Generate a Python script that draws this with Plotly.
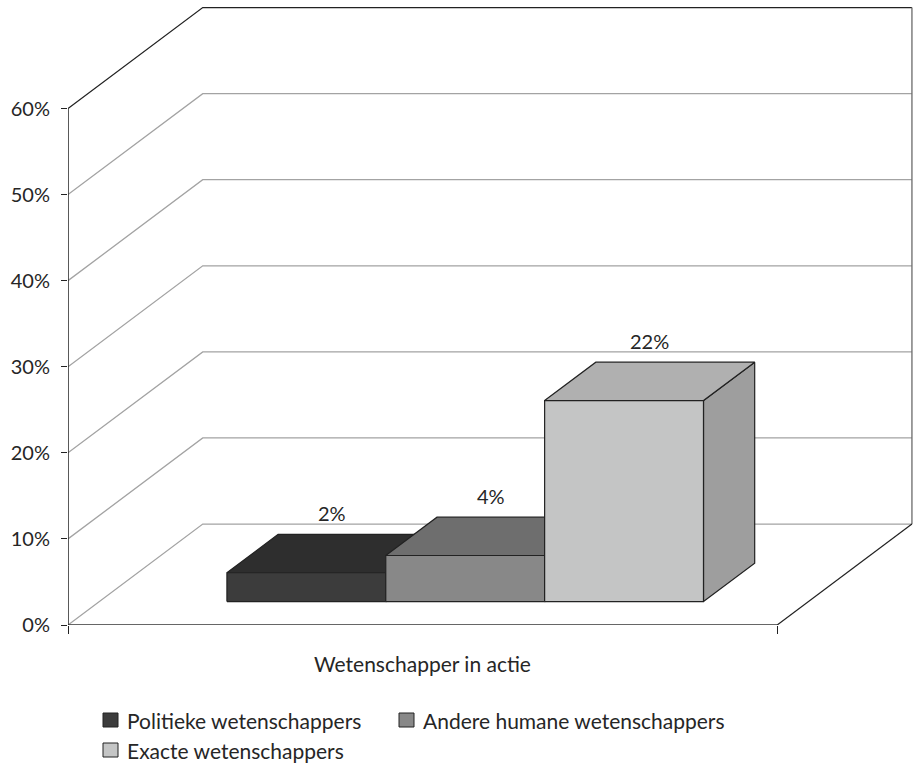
import plotly.graph_objects as go

# ---------------- data ----------------
CATEGORY = "Wetenschapper in actie"
SERIES = ["Politieke wetenschappers", "Andere humane wetenschappers", "Exacte wetenschappers"]
VALUES = [2, 4, 22]
VALUE_LABELS = ["2%", "4%", "22%"]
Y_TICKS = [0, 10, 20, 30, 40, 50, 60]
Y_TICK_TEXT = ["0%", "10%", "20%", "30%", "40%", "50%", "60%"]

# ---------------- style ----------------
FRONT = ["#3c3c3c", "#888888", "#c4c5c5"]
TOP = ["#2e2e2e", "#6e6e6e", "#b0b0b0"]
SIDE = ["#262626", "#5c5c5c", "#9e9e9e"]
EDGE = "#222222"
GRID = "#a3a3a3"
AXIS = "#333333"
TXT = "#262626"
FONT = "Lato"

# oblique-projection geometry (in axis units)
W = 1.0          # width of the category on the front plane
DX = 0.19        # depth offset in x
DY = 11.73       # depth offset in y (percentage units)
F0 = 0.232       # depth fraction of bar front face
FD = 0.38        # depth fraction of bar thickness
BAR_LEFT = 0.18
BAR_W = 0.224
LIFT = 1.35

fig = go.Figure()

def line(xs, ys, color, width=1.0):
    fig.add_trace(go.Scatter(x=xs, y=ys, mode="lines", line=dict(color=color, width=width),
                             hoverinfo="skip", showlegend=False))

def poly(xs, ys, fill):
    fig.add_trace(go.Scatter(x=xs + [xs[0]], y=ys + [ys[0]], mode="lines", fill="toself",
                             fillcolor=fill, line=dict(color=EDGE, width=1.2),
                             hoverinfo="skip", showlegend=False))

# walls / gridlines
ymax = Y_TICKS[-1]
for v in Y_TICKS:
    c = "#222222" if v == ymax else GRID
    line([0, DX, W + DX], [v, v + DY, v + DY], c, 1.3)
# right edge of back wall
line([W + DX, W + DX], [DY, ymax + DY], "#6a6a6a", 1.3)
# floor right edge
line([W, W + DX], [0, DY], "#222222", 1.2)
# front axis lines
line([0, W], [0, 0], AXIS, 1.5)
line([0, 0], [0, ymax], "#222222", 1.5)

# bars
ox, oy = F0 * DX, F0 * DY
bdx, bdy = FD * DX, FD * DY
for i, v in enumerate(VALUES):
    x0 = BAR_LEFT + i * BAR_W + ox
    x1 = x0 + BAR_W
    y0 = oy
    y1 = oy + v + LIFT
    poly([x1, x1 + bdx, x1 + bdx, x1], [y0, y0 + bdy, y1 + bdy, y1], SIDE[i])
    poly([x0, x1, x1 + bdx, x0 + bdx], [y1, y1, y1 + bdy, y1 + bdy], TOP[i])
    poly([x0, x1, x1, x0], [y0, y0, y1, y1], FRONT[i])
    fig.add_annotation(x=(x0 + x1 + bdx) / 2, y=y1 + bdy + 2.5,
                       text=VALUE_LABELS[i], showarrow=False, xanchor="center", yanchor="middle",
                       font=dict(family=FONT, size=20, color=TXT))

# category label
fig.add_annotation(x=W / 2, y=0, yshift=-38, text=CATEGORY, showarrow=False,
                   xanchor="center", yanchor="middle", font=dict(family=FONT, size=21, color=TXT))

# legend (manual)
L, T_, PW, PH = 68, 5, 845, 620
def px2paper(px, py):
    return (px - L) / PW, (T_ + PH - py) / PH

legend_pos = [(103, 720), (399, 720), (103, 750)]
for i, (sx, sy) in enumerate(legend_pos):
    ax0, ay0 = px2paper(sx, sy + 7)
    ax1, ay1 = px2paper(sx + 15, sy - 7)
    fig.add_shape(type="rect", xref="paper", yref="paper", x0=ax0, y0=ay0, x1=ax1, y1=ay1,
                  fillcolor=FRONT[i], line=dict(color=EDGE, width=1))
    tx, ty = px2paper(sx + 22, sy)
    fig.add_annotation(xref="paper", yref="paper", x=tx, y=ty, text=SERIES[i], showarrow=False,
                       xanchor="left", yanchor="middle", font=dict(family=FONT, size=21, color=TXT))

fig.update_layout(
    width=913, height=768,
    margin=dict(l=L, r=0, t=T_, b=143),
    paper_bgcolor="white", plot_bgcolor="white",
    showlegend=False,
    xaxis=dict(range=[0, W + DX + 0.0015], showgrid=False, zeroline=False, showline=False,
               tickvals=[0, W], ticktext=["", ""], ticks="outside", ticklen=8,
               tickcolor="#222222", tickwidth=1.2, fixedrange=True),
    yaxis=dict(range=[0, 620 / 8.608], showgrid=False, zeroline=False, showline=False,
               tickvals=Y_TICKS, ticktext=Y_TICK_TEXT, ticks="outside", ticklen=6,
               tickcolor="#222222", tickwidth=1.2, ticklabelstandoff=7,
               tickfont=dict(family=FONT, size=20, color=TXT), fixedrange=True),
)

fig.write_html("out.html", config={"displayModeBar": False},
               post_script="document.body.style.margin='0';document.body.style.overflow='hidden';")
